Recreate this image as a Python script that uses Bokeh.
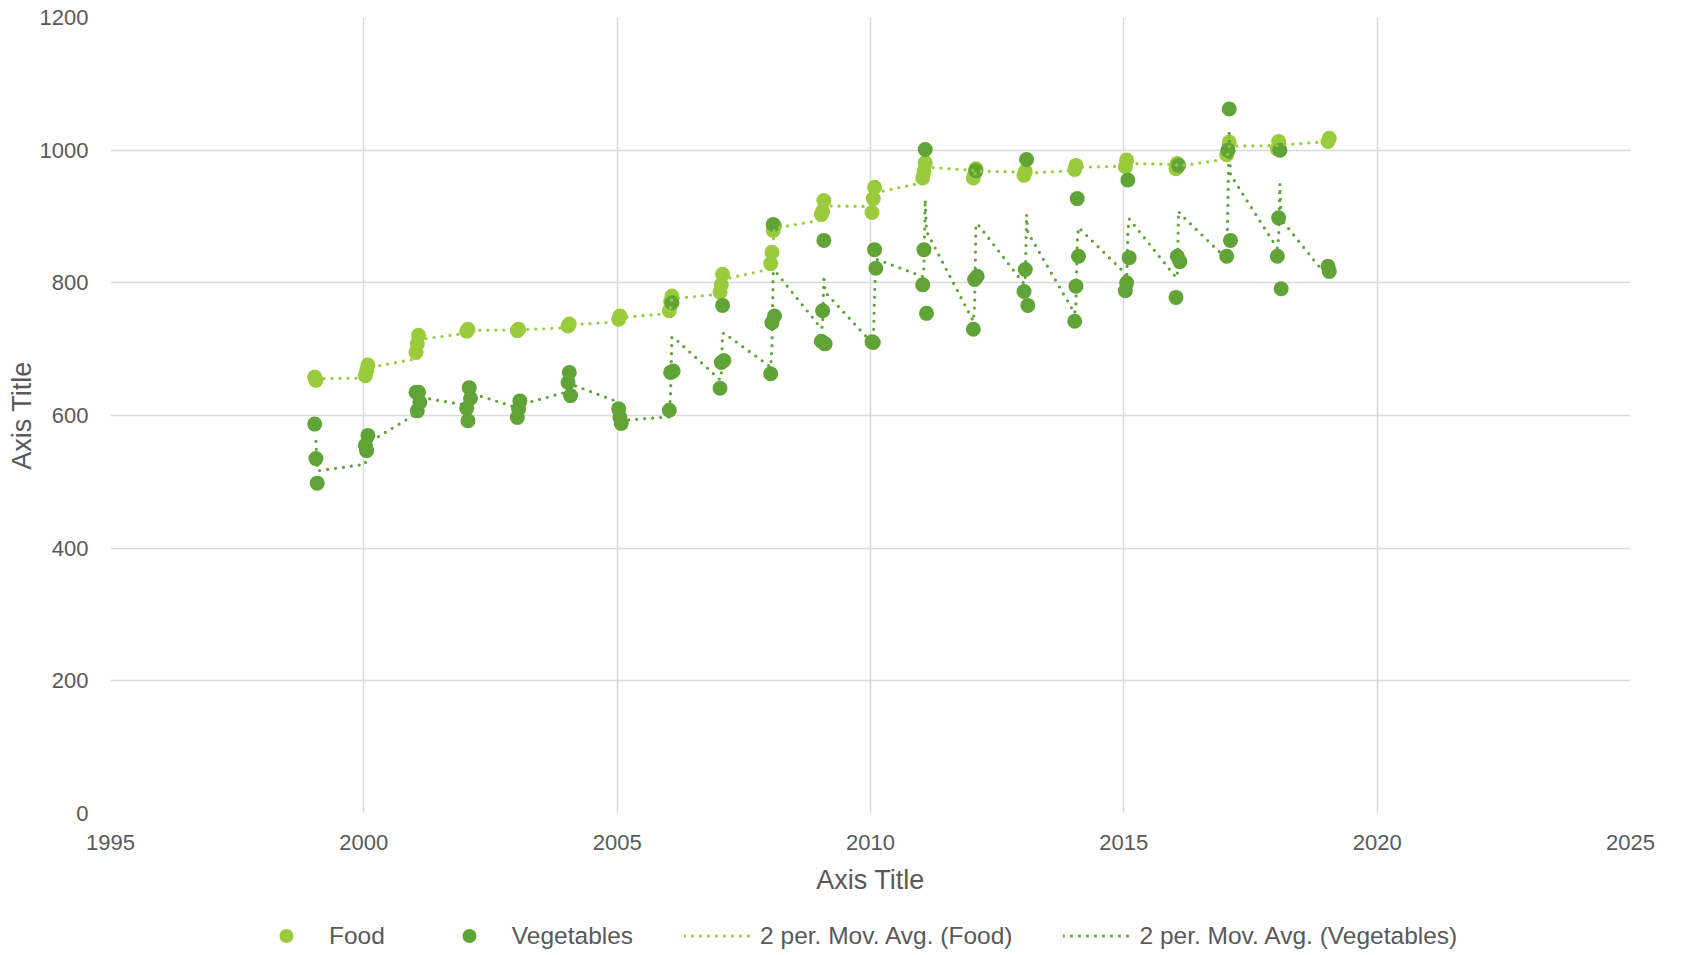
from bokeh.plotting import figure
from bokeh.models import Legend, LegendItem, FixedTicker, Range1d
from bokeh.layouts import column
from bokeh.embed import file_html
from bokeh.resources import INLINE

# ---------------- data ----------------
years = list(range(1999, 2020))

# Food observations per year, in plotting order
food_by_year = [
    [658, 653],              # 1999
    [660, 668, 676],         # 2000
    [695, 708, 721],         # 2001
    [727, 730],              # 2002
    [728, 730],              # 2003
    [735, 738],              # 2004
    [745, 750],              # 2005
    [758, 772, 780],         # 2006
    [786, 797, 813],         # 2007
    [829, 846, 879, 886],    # 2008
    [903, 908, 924],         # 2009
    [906, 927, 944],         # 2010
    [958, 968, 981],         # 2011
    [958, 965, 972],         # 2012
    [962, 968],              # 2013
    [971, 977],              # 2014
    [975, 985],              # 2015
    [972, 980],              # 2016
    [993, 1000, 1012],       # 2017
    [1002, 1013],            # 2018
    [1013, 1018],            # 2019
]

# Vegetables observations per year, in plotting order
veg_by_year = [
    [587, 535, 498],         # 1999
    [555, 547, 570],         # 2000
    [635, 607, 635, 620],    # 2001
    [611, 592, 642, 626],    # 2002
    [597, 610, 622],         # 2003
    [650, 665, 630],         # 2004
    [610, 597, 588],         # 2005
    [608, 665, 770, 667],    # 2006
    [641, 680, 766, 683],    # 2007
    [663, 740, 888, 750],    # 2008
    [712, 758, 864, 708],    # 2009
    [711, 710, 850, 822],    # 2010
    [797, 850, 1001, 754],   # 2011
    [730, 805, 969, 810],    # 2012
    [787, 820, 986, 766],    # 2013
    [742, 795, 927, 840],    # 2014
    [788, 800, 955, 838],    # 2015
    [778, 840, 977, 832],    # 2016
    [840, 1000, 1062, 864],  # 2017
    [840, 898, 1000, 791],   # 2018
    [825, 817],              # 2019
]

# fractional-year offsets of the observations within each year
within_year = [0.03, 0.055, 0.08, 0.105]

x_ticks = [1995, 2000, 2005, 2010, 2015, 2020, 2025]
y_ticks = [0, 200, 400, 600, 800, 1000, 1200]

legend_labels = ["Food", "Vegetables",
                 "2 per. Mov. Avg. (Food)", "2 per. Mov. Avg. (Vegetables)"]

FOOD_C = "#9ACB3C"
VEG_C = "#60A336"
TEXT_C = "#595959"
GRID_C = "#D9D9D9"
FONT = "Liberation Sans"
DOT_STYLE = dict(line_width=3.2, line_dash="0 8", line_cap="round")


def flatten(groups):
    xs, ys = [], []
    for yr, vals in zip(years, groups):
        for k, v in enumerate(vals):
            xs.append(yr + within_year[k])
            ys.append(v)
    return xs, ys


def moving_average(xs, ys, period=2):
    mx, my = [], []
    for i in range(period - 1, len(ys)):
        mx.append(xs[i])
        my.append(sum(ys[i - period + 1:i + 1]) / period)
    return mx, my


fx, fy = flatten(food_by_year)
vx, vy = flatten(veg_by_year)
fmx, fmy = moving_average(fx, fy)
vmx, vmy = moving_average(vx, vy)

# ---------------- main chart ----------------
p = figure(width=1681, height=900, output_backend="svg", toolbar_location=None,
           x_range=Range1d(1995, 2025), y_range=Range1d(0, 1200),
           min_border_left=110, min_border_right=51, min_border_top=17,
           min_border_bottom=87)
p.outline_line_color = None
p.background_fill_color = "white"
p.border_fill_color = "white"

p.scatter(fx, fy, size=15, marker="circle", fill_color=FOOD_C, line_color=None)
p.scatter(vx, vy, size=15, marker="circle", fill_color=VEG_C, line_color=None)
p.line(fmx, fmy, line_color=FOOD_C, **DOT_STYLE)
p.line(vmx, vmy, line_color=VEG_C, **DOT_STYLE)

p.xaxis.ticker = FixedTicker(ticks=x_ticks)
p.yaxis.ticker = FixedTicker(ticks=y_ticks)
for ax in (p.xaxis, p.yaxis):
    ax.axis_line_color = None
    ax.major_tick_line_color = None
    ax.minor_tick_line_color = None
    ax.major_label_text_font = FONT
    ax.major_label_text_font_size = "22px"
    ax.major_label_text_color = TEXT_C
    ax.axis_label = "Axis Title"
    ax.axis_label_text_font = FONT
    ax.axis_label_text_font_size = "27px"
    ax.axis_label_text_font_style = "normal"
    ax.axis_label_text_color = TEXT_C
p.xaxis.major_label_standoff = 15
p.xaxis.axis_label_standoff = 12
p.yaxis.major_label_standoff = 16
p.yaxis.axis_label_standoff = 0

p.xgrid.ticker = FixedTicker(ticks=x_ticks)
p.ygrid.ticker = FixedTicker(ticks=y_ticks)
p.grid.grid_line_color = GRID_C
p.grid.grid_line_width = 1.5

# ---------------- legend row (own strip below the chart) ----------------
lg = figure(width=1681, height=55, output_backend="svg", toolbar_location=None,
            x_axis_type=None, y_axis_type=None,
            x_range=Range1d(0, 1), y_range=Range1d(0, 1),
            min_border=0, min_border_left=0, min_border_right=0,
            min_border_top=0, min_border_bottom=0)
lg.outline_line_color = None
lg.grid.visible = False
lg.background_fill_color = "white"
lg.border_fill_color = "white"

# legend-only renderers: their single points sit outside the visible range
r_food = lg.scatter(x=[-5], y=[-5], size=15, marker="circle", fill_color=FOOD_C, line_color=None)
r_veg = lg.scatter(x=[-5], y=[-5], size=15, marker="circle", fill_color=VEG_C, line_color=None)
r_fma = lg.line(x=[-5, -4], y=[-5, -5], line_color=FOOD_C, **DOT_STYLE)
r_vma = lg.line(x=[-5, -4], y=[-5, -5], line_color=VEG_C, **DOT_STYLE)

legend = Legend(items=[LegendItem(label=lab, renderers=[r])
                       for lab, r in zip(legend_labels, [r_food, r_veg, r_fma, r_vma])],
                orientation="horizontal", location=(143, 2),
                glyph_width=66, glyph_height=35, label_standoff=10, spacing=51,
                label_text_font=FONT, label_text_font_size="24.5px",
                label_text_color=TEXT_C,
                background_fill_alpha=0, border_line_alpha=0, padding=0, margin=0)
lg.add_layout(legend)

page = column(p, lg, spacing=0)
open("out.html", "w").write(file_html(page, INLINE))
